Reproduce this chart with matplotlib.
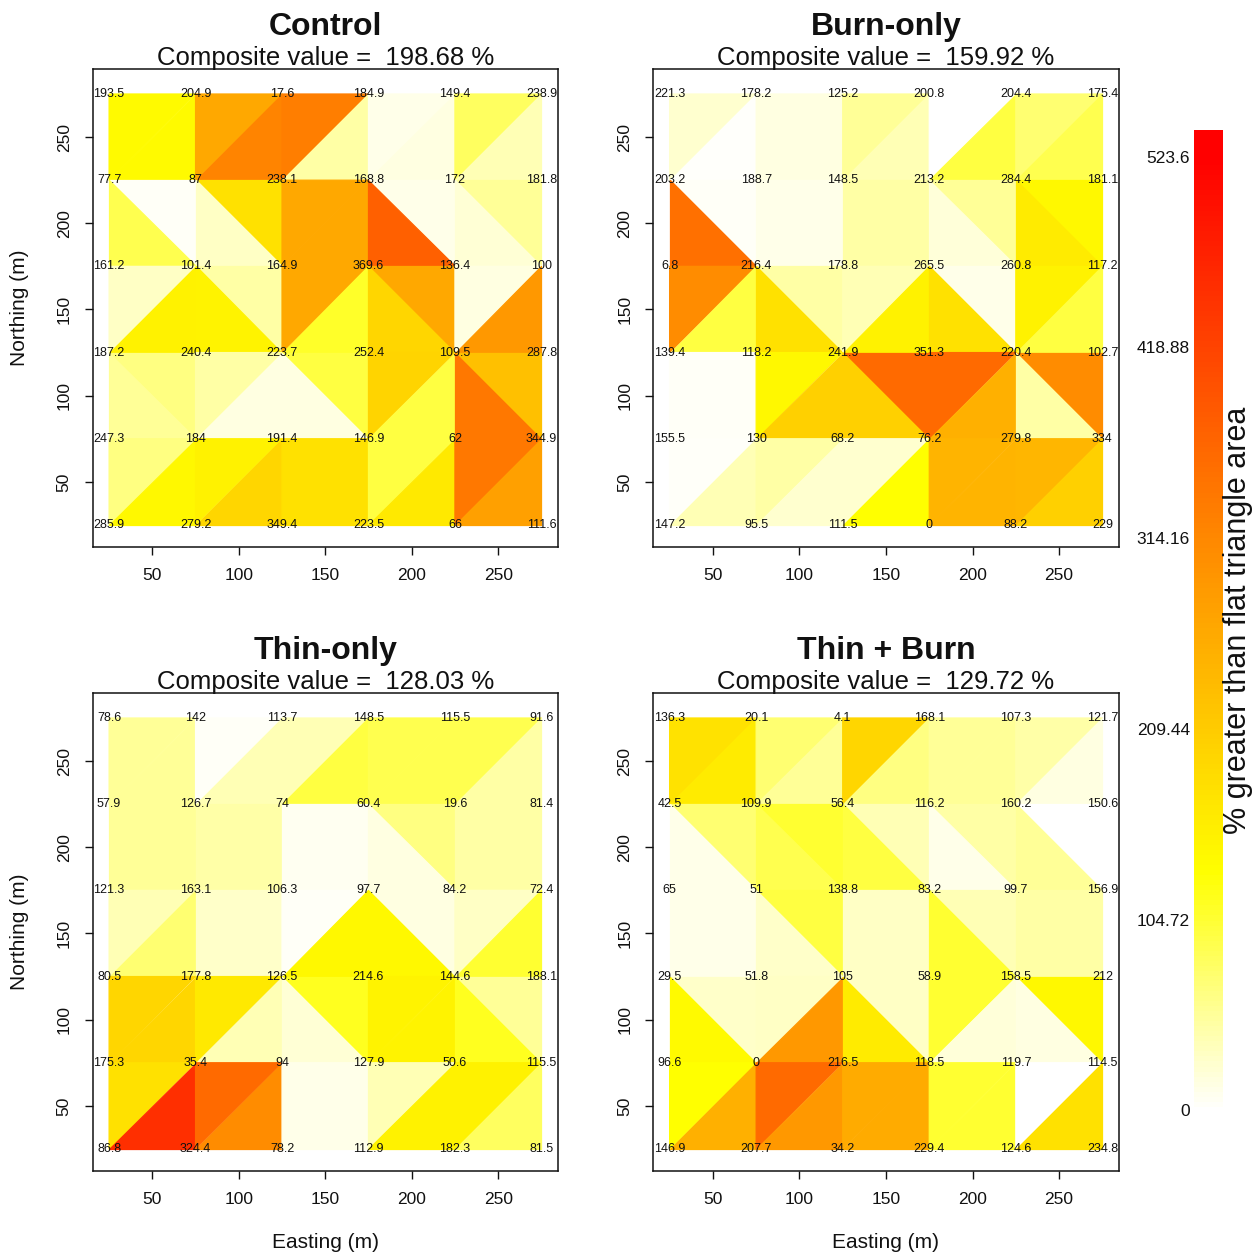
"""
Triangle surface-area maps for four treatments (Control, Burn-only,
Thin-only, Thin + Burn). Each 50 m cell is split into two triangles that
are coloured by how much larger their 3-D area is than the flat area.
Node labels are the point values on the 6 x 6 grid.
"""

import matplotlib.pyplot as plt
from matplotlib.collections import PolyCollection
from matplotlib.colors import LinearSegmentedColormap, Normalize

plt.rcParams["font.family"] = ["Liberation Sans", "DejaVu Sans"]

# ── GRID ──────────────────────────────────────────────────────────────────────
EASTING  = [25, 75, 125, 175, 225, 275]
NORTHING = [275, 225, 175, 125, 75, 25]      # rows listed top to bottom

TREATMENTS = ["Control", "Burn-only", "Thin-only", "Thin + Burn"]
COMPOSITE  = [198.68, 159.92, 128.03, 129.72]

VMAX     = 523.6
CB_TICKS = [0, 104.72, 209.44, 314.16, 418.88, 523.6]
AXIS_TICKS = [50, 100, 150, 200, 250]

# ── DATA ──────────────────────────────────────────────────────────────────────
# diag: R = rising "/" diagonal, F = falling "\" diagonal
# upper = triangle touching the cell's top edge, lower = the one on the bottom

control_nodes = [
    [193.5, 204.9, 17.6, 184.9, 149.4, 238.9],
    [77.7, 87, 238.1, 168.8, 172, 181.8],
    [161.2, 101.4, 164.9, 369.6, 136.4, 100],
    [187.2, 240.4, 223.7, 252.4, 109.5, 287.8],
    [247.3, 184, 191.4, 146.9, 62, 344.9],
    [285.9, 279.2, 349.4, 223.5, 66, 111.6],
]
control_diag = ["RRRRR", "FFRFF", "RFRFR", "FRFRF", "RRRRR"]
control_upper = [
    [140, 265, 330, 12, 82],
    [5, 177, 265, 12, 54],
    [30, 47, 265, 265, 16],
    [65, 47, 98, 197, 228],
    [65, 152, 177, 98, 339],
]
control_lower = [
    [140, 320, 47, 16, 38],
    [90, 30, 265, 376, 22],
    [152, 150, 110, 194, 290],
    [54, 16, 16, 98, 339],
    [143, 194, 177, 165, 277],
]

burn_nodes = [
    [221.3, 178.2, 125.2, 200.8, 204.4, 175.4],
    [203.2, 188.7, 148.5, 213.2, 284.4, 181.1],
    [6.8, 216.4, 178.8, 265.5, 260.8, 117.2],
    [139.4, 118.2, 241.9, 351.3, 220.4, 102.7],
    [155.5, 130, 68.2, 76.2, 279.8, 334],
    [147.2, 95.5, 111.5, 0, 88.2, 229],
]
burn_diag = ["RRRRR", "FFFFF", "RFRFR", "RRFRF", "RRRRR"]
burn_upper = [
    [25, 16, 54, 0, 73],
    [5, 12, 47, 54, 143],
    [308, 47, 38, 12, 152],
    [5, 143, 360, 360, 308],
    [4, 47, 25, 246, 243],
]
burn_lower = [
    [3, 16, 38, 98, 90],
    [351, 12, 47, 20, 162],
    [98, 177, 152, 177, 98],
    [5, 203, 203, 253, 47],
    [38, 25, 131, 246, 203],
]

thin_nodes = [
    [78.6, 142, 113.7, 148.5, 115.5, 91.6],
    [57.9, 126.7, 74, 60.4, 19.6, 81.4],
    [121.3, 163.1, 106.3, 97.7, 84.2, 72.4],
    [80.5, 177.8, 126.5, 214.6, 144.6, 188.1],
    [175.3, 35.4, 94, 127.9, 50.6, 115.5],
    [86.8, 324.4, 78.2, 112.9, 182.3, 81.5],
]
thin_diag = ["RRRRR", "FFFFF", "RFRFR", "RRFRF", "RRRRR"]
thin_upper = [
    [54, 5, 38, 90, 90],
    [54, 45, 8, 65, 47],
    [38, 28, 5, 16, 30],
    [194, 165, 115, 150, 54],
    [177, 360, 12, 38, 152],
]
thin_lower = [
    [54, 38, 98, 90, 47],
    [54, 45, 8, 16, 47],
    [73, 28, 143, 143, 106],
    [194, 38, 22, 150, 115],
    [450, 308, 12, 152, 82],
]

tb_nodes = [
    [136.3, 20.1, 4.1, 168.1, 107.3, 121.7],
    [42.5, 109.9, 56.4, 116.2, 160.2, 150.6],
    [65, 51, 138.8, 83.2, 99.7, 156.9],
    [29.5, 51.8, 105, 58.9, 158.5, 212],
    [96.6, 0, 216.5, 118.5, 119.7, 114.5],
    [146.9, 207.7, 34.2, 229.4, 124.6, 234.8],
]
tb_diag = ["RRRRR", "FFFFF", "FFFFF", "FRFRF", "RRRRR"]
tb_upper = [
    [175, 73, 194, 54, 45],
    [73, 106, 38, 47, 0],
    [12, 98, 30, 38, 47],
    [28, 30, 30, 106, 143],
    [131, 360, 260, 106, 0],
]
tb_lower = [
    [162, 54, 65, 54, 16],
    [12, 90, 98, 12, 54],
    [12, 28, 30, 106, 47],
    [140, 290, 162, 20, 16],
    [253, 290, 260, 106, 177],
]

PANELS = [
    (control_nodes, control_diag, control_upper, control_lower),
    (burn_nodes, burn_diag, burn_upper, burn_lower),
    (thin_nodes, thin_diag, thin_upper, thin_lower),
    (tb_nodes, tb_diag, tb_upper, tb_lower),
]

# ── COLOURS ───────────────────────────────────────────────────────────────────
cmap = LinearSegmentedColormap.from_list(
    "heat_r", [(0.0, "#ffffff"), (0.25, "#ffff00"), (1.0, "#ff0000")], N=512)
cmap.set_under("#ffffff")
norm = Normalize(0, VMAX)


def triangles(diag, upper, lower):
    verts, vals = [], []
    for i in range(5):
        yt, yb = NORTHING[i], NORTHING[i + 1]
        for j in range(5):
            xl, xr = EASTING[j], EASTING[j + 1]
            tl, tr, bl, br = (xl, yt), (xr, yt), (xl, yb), (xr, yb)
            if diag[i][j] == "R":
                verts += [[tl, tr, bl], [bl, br, tr]]
            else:
                verts += [[tl, tr, br], [tl, bl, br]]
            vals += [upper[i][j], lower[i][j]]
    return verts, vals


# ── FIGURE ────────────────────────────────────────────────────────────────────
W, H = 1258, 1257
fig = plt.figure(figsize=(W / 100, H / 100), dpi=100)


def px_axes(x0, y0, x1, y1):
    return fig.add_axes([x0 / W, 1 - y1 / H, (x1 - x0) / W, (y1 - y0) / H])


boxes = [(92.5, 69, 558, 547), (653, 69, 1119, 547),
         (92.5, 693, 558, 1171), (653, 693, 1119, 1171)]

for k, (box, (nodes, diag, upper, lower)) in enumerate(zip(boxes, PANELS)):
    ax = px_axes(*box)
    verts, vals = triangles(diag, upper, lower)
    pc = PolyCollection(verts, array=vals, cmap=cmap, norm=norm,
                        edgecolors="face", linewidths=0.9, zorder=1)
    ax.add_collection(pc)

    for i, yv in enumerate(NORTHING):
        for j, xv in enumerate(EASTING):
            ax.text(xv, yv, f"{nodes[i][j]:g}", ha="center", va="center",
                    fontsize=9, color="#111111", zorder=3)

    ax.set_xlim(15.4, 284.6)
    ax.set_ylim(12.2, 289.5)
    ax.set_xticks(AXIS_TICKS)
    ax.set_yticks(AXIS_TICKS)
    ax.tick_params(direction="out", length=6, width=1, labelsize=12.5,
                   pad=9, colors="#111111")
    for lab in ax.get_yticklabels():
        lab.set_rotation(90)
        lab.set_va("center")
    for sp in ax.spines.values():
        sp.set_linewidth(1.1)
        sp.set_color("#111111")

    cx = (box[0] + box[2]) / 2 / W
    fig.text(cx, 1 - (box[1] - 42) / H, TREATMENTS[k], ha="center",
             va="center", fontsize=23, fontweight="bold", color="#111111")
    fig.text(cx, 1 - (box[1] - 11) / H,
             f"Composite value =  {COMPOSITE[k]:.2f} %", ha="center",
             va="center", fontsize=18.5, color="#111111")

    if k >= 2:
        fig.text(cx, 1 - 1243 / H, "Easting (m)", ha="center", va="center",
                 fontsize=15, color="#111111")
    if k % 2 == 0:
        fig.text(20 / W, 1 - ((box[1] + box[3]) / 2) / H, "Northing (m)",
                 ha="center", va="center", rotation=90, fontsize=15,
                 color="#111111")

# ── COLOUR BAR ────────────────────────────────────────────────────────────────
cax = px_axes(1194, 130, 1223, 1137)
n_bins = 19
step = VMAX / (n_bins - 1)
lo, hi = -step / 2, VMAX + step / 2
n_rows = 200
levels = [[lo + (hi - lo) * (r + 0.5) / n_rows] for r in range(n_rows)]
cax.imshow(levels, cmap=cmap, norm=norm, origin="lower", aspect="auto",
           extent=[0, 1, lo, hi])
cax.set_xlim(0, 1)
cax.set_ylim(lo, hi)
cax.set_xticks([])
cax.set_yticks(CB_TICKS)
cax.set_yticklabels([f"{t:g}" for t in CB_TICKS])
cax.tick_params(axis="y", length=0, pad=3, labelsize=12.5, colors="#111111")
for sp in cax.spines.values():
    sp.set_visible(False)

fig.text(1238 / W, 1 - 620 / H, "% greater than flat triangle area",
         ha="center", va="center", rotation=90, fontsize=22, color="#111111")

fig.savefig("out.png", dpi=100)
